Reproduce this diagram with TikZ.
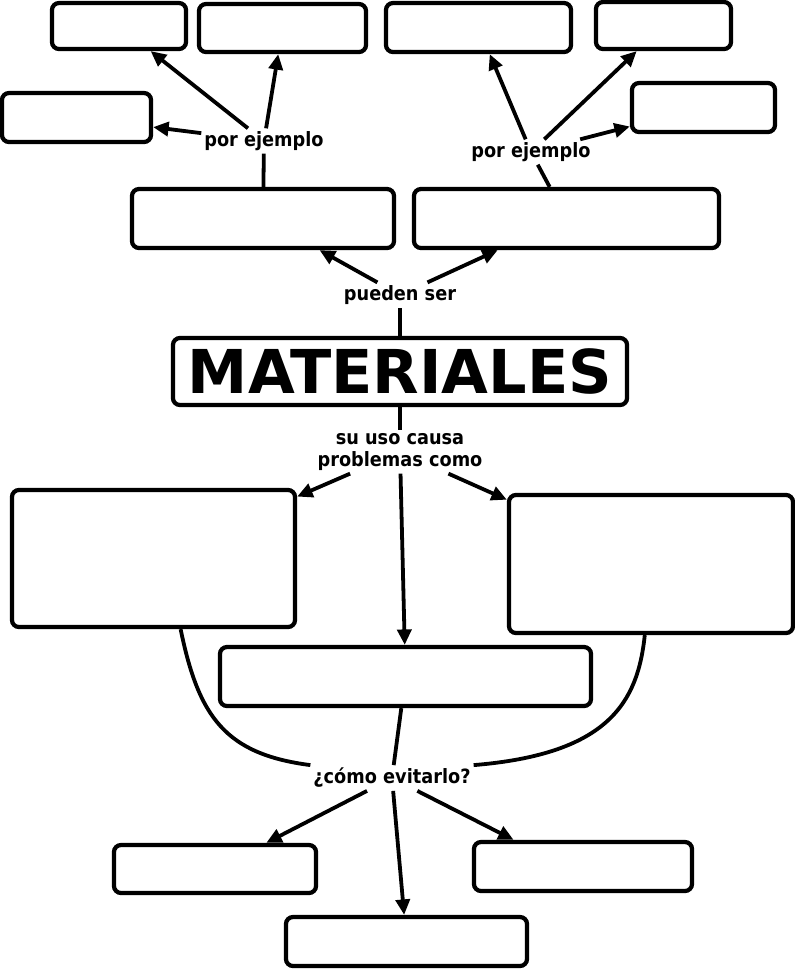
\documentclass[tikz,border=0pt]{standalone}
\usepackage{fontspec}
\setmainfont{DejaVu Sans}
\newfontfamily\narrowfont{DejaVu Sans}[FakeStretch=0.9]
\usepackage{tikz}
\usetikzlibrary{arrows.meta}

\begin{document}
\begin{tikzpicture}[x=0.025cm,y=-0.025cm,>={Triangle[length=11pt,width=10pt]},
  box/.style={draw,line width=3pt,rounded corners=5pt,inner sep=0pt},
  lbl/.style={font=\fontsize{14}{15.6}\narrowfont\bfseries,align=center,inner sep=2pt},
  link/.style={line width=2.7pt}]
  \useasboundingbox (0,0) rectangle (795,969);
  % top row of examples
  \node[box,minimum width=3.35cm,minimum height=1.15cm] (a1) at (119,26) {};
  \node[box,minimum width=4.175cm,minimum height=1.2cm] (a2) at (282.5,28) {};
  \node[box,minimum width=4.625cm,minimum height=1.225cm] (a3) at (478.5,27.5) {};
  \node[box,minimum width=3.375cm,minimum height=1.175cm] (a4) at (663.5,25.5) {};
  \node[box,minimum width=3.725cm,minimum height=1.225cm] (l1) at (76.5,117.5) {};
  \node[box,minimum width=3.575cm,minimum height=1.225cm] (r1) at (703.5,107.5) {};
  \node[lbl] (ej1) at (264,141) {por ejemplo};
  \node[lbl] (ej2) at (531,152) {por ejemplo};
  % kinds of materials
  \node[box,minimum width=6.55cm,minimum height=1.475cm] (lm) at (263,218.5) {};
  \node[box,minimum width=7.625cm,minimum height=1.475cm] (rm) at (566.5,218.5) {};
  \node[lbl] (ps) at (400,295) {pueden ser};
  \node[box,minimum width=11.35cm,minimum height=1.675cm,
    font=\fontsize{43}{43}\selectfont\bfseries] (mat) at (400,371.5) {MATERIALES};
  % problems
  \node[lbl] (su) at (400,452) {su uso causa\\problemas como};
  \node[box,minimum width=7.075cm,minimum height=3.425cm] (bl) at (153.5,558.5) {};
  \node[box,minimum width=7.1cm,minimum height=3.45cm] (br) at (651,564) {};
  \node[box,minimum width=9.275cm,minimum height=1.475cm] (c) at (405.5,676.5) {};
  % solutions
  \node[lbl] (ce) at (392,778) {¿cómo evitarlo?};
  \node[box,minimum width=5.05cm,minimum height=1.2cm] (d1) at (215,869) {};
  \node[box,minimum width=6.025cm,minimum height=1.225cm] (d2) at (406.5,941.5) {};
  \node[box,minimum width=5.45cm,minimum height=1.225cm] (d3) at (583,866.5) {};

  \draw[link] (lm) -- (ej1);
  \draw[link,->] (ej1) -- (a1);
  \draw[link,->] (ej1) -- (a2);
  \draw[link,->] (ej1) -- (l1);
  \draw[link] (rm) -- (ej2);
  \draw[link,->] (ej2) -- (a3);
  \draw[link,->] (ej2) -- (a4);
  \draw[link,->] (ej2) -- (r1);
  \draw[link] (mat) -- (ps);
  \draw[link,->] (ps) -- (lm);
  \draw[link,->] (ps) -- (rm);
  \draw[link] (mat) -- (su);
  \draw[link,->] (su) -- (bl);
  \draw[link,->] (su) -- (br);
  \draw[link,->] (su) -- (c);
  \draw[link] (bl.-69) .. controls +(18,88) and +(-85,-11) .. (ce.north west);
  \draw[link] (br.-95) .. controls +(-7,67) and +(135,-11) .. (ce.north east);
  \draw[link] (c) -- (ce);
  \draw[link,->] (ce) -- (d1.27);
  \draw[link,->] (ce) -- (d2);
  \draw[link,->] (ce) -- (d3.159);
\end{tikzpicture}
\end{document}
